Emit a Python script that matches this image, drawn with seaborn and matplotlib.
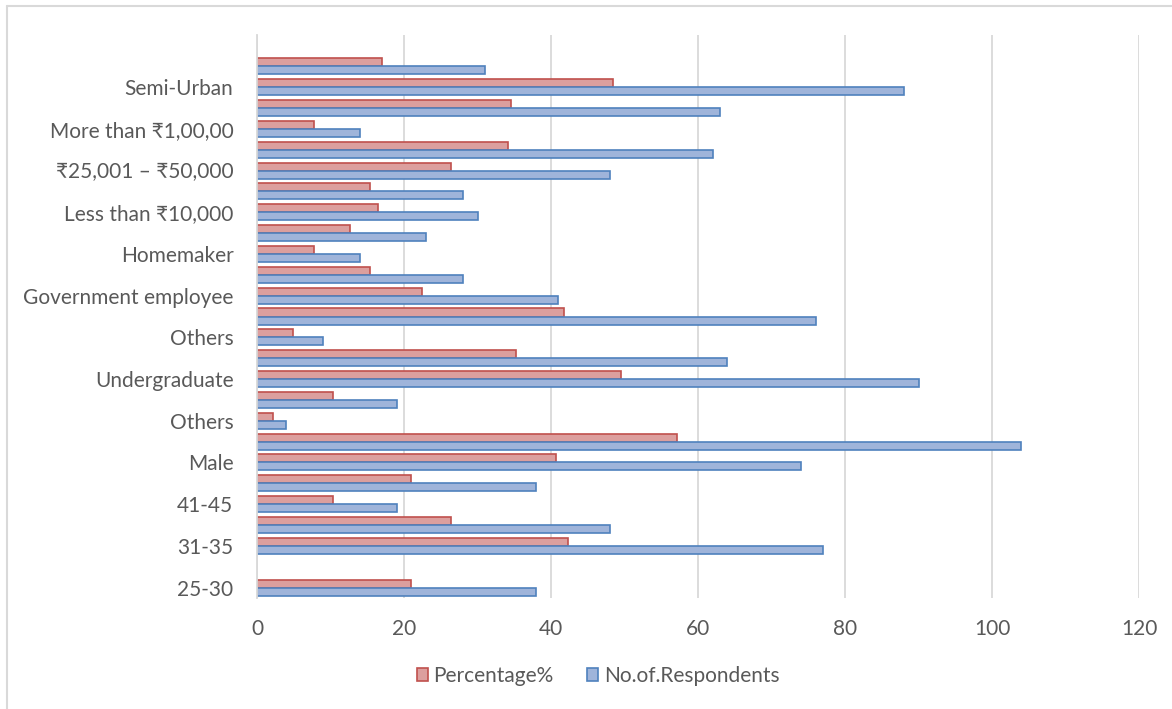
import numpy as np
import pandas as pd
import matplotlib
matplotlib.use("Agg")
import matplotlib.pyplot as plt
from matplotlib.lines import Line2D
import seaborn as sns

# rows listed top to bottom as they appear; only every other row carries a label
labels = ["", "", "Semi-Urban", "", "More than ₹1,00,00", "", "₹25,001 – ₹50,000", "",
          "Less than ₹10,000", "", "Homemaker", "", "Government employee", "", "Others", "",
          "Undergraduate", "", "Others", "", "Male", "", "41-45", "", "31-35", "", "25-30"]
respondents = [np.nan, 31, 88, 63, 14, 62, 48, 28, 30, 23, 14, 28, 41, 76, 9, 64,
               90, 19, 4, 104, 74, 38, 19, 48, 77, np.nan, 38]
percentage = [np.nan, 17.0, 48.4, 34.6, 7.7, 34.1, 26.4, 15.4, 16.5, 12.6, 7.7, 15.4, 22.5, 41.8, 4.9, 35.2,
              49.5, 10.4, 2.2, 57.1, 40.7, 20.9, 10.4, 26.4, 42.3, np.nan, 20.9]
series = ["Percentage%", "No.of.Respondents"]
x_ticks = [0, 20, 40, 60, 80, 100, 120]

rows = ["row%02d" % i for i in range(len(labels))]
df = pd.concat([
    pd.DataFrame({"row": rows, "value": percentage, "series": series[0]}),
    pd.DataFrame({"row": rows, "value": respondents, "series": series[1]}),
], ignore_index=True)

sns.set_theme(style="white")
plt.rcParams["font.family"] = ["Lato", "Noto Sans", "DejaVu Sans"]
text_color = "#595959"
face = {"Percentage%": "#dc9f9e", "No.of.Respondents": "#9fb4da"}
edge = {"Percentage%": "#c0504d", "No.of.Respondents": "#4f81bd"}

W, H = 1172, 709
fig = plt.figure(figsize=(W / 100, H / 100), dpi=100)
ax = fig.add_axes([257 / W, 1 - 598 / H, (1139 - 257) / W, (598 - 35) / H])

sns.barplot(data=df, y="row", x="value", hue="series", order=rows, hue_order=series,
            orient="h", errorbar=None, width=0.77, ax=ax, legend=False)
for cont, name in zip(ax.containers, series):
    for bar in cont:
        bar.set_facecolor(face[name])
        bar.set_edgecolor(edge[name])
        bar.set_linewidth(1.2)

ax.set_xlim(0, 120)
ax.set_ylim(len(rows) - 0.5, -0.5)
ax.set_xticks(x_ticks)
ax.set_yticks(range(len(rows)))
ax.set_yticklabels(labels)
ax.set_xlabel("")
ax.set_ylabel("")
ax.tick_params(axis="both", length=0, labelsize=15, colors=text_color)
ax.tick_params(axis="y", pad=17)
ax.tick_params(axis="x", pad=15)
ax.grid(axis="x", color="#d9d9d9", linewidth=1.3)
ax.set_axisbelow(True)
for side in ["top", "right", "bottom"]:
    ax.spines[side].set_visible(False)
ax.spines["left"].set_color("#d9d9d9")
ax.spines["left"].set_linewidth(1.3)

handles = [plt.Rectangle((0, 0), 1, 1, facecolor=face[s], edgecolor=edge[s], linewidth=1.2) for s in series]
fig.legend(handles, series, loc="center", bbox_to_anchor=(598 / W, 1 - 676 / H), ncol=2,
           frameon=False, fontsize=15, labelcolor=text_color, handlelength=0.55, handleheight=0.55,
           handletextpad=0.25, columnspacing=1.6)

# chart-area border (left and top edges only are visible)
fig.add_artist(Line2D([7 / W, 7 / W], [0, 1 - 6 / H], color="#d9d9d9", linewidth=1.5))
fig.add_artist(Line2D([7 / W, 1], [1 - 6 / H, 1 - 6 / H], color="#d9d9d9", linewidth=1.5))

fig.savefig("out.png", dpi=100, facecolor="white")
